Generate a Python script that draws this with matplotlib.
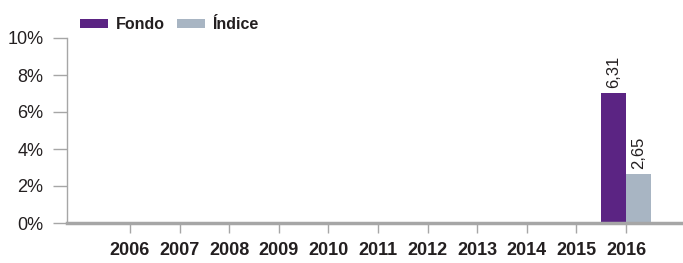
import matplotlib.pyplot as plt
import numpy as np
from matplotlib.font_manager import fontManager

years = ['2006', '2007', '2008', '2009', '2010', '2011', '2012', '2013', '2014', '2015', '2016']
fondo = [0, 0, 0, 0, 0, 0, 0, 0, 0, 0, 7.05]
indice = [0, 0, 0, 0, 0, 0, 0, 0, 0, 0, 2.65]
fondo_labels = ['', '', '', '', '', '', '', '', '', '', '6,31']
indice_labels = ['', '', '', '', '', '', '', '', '', '', '2,65']

names = {f.name for f in fontManager.ttflist}
fam = 'Liberation Sans Narrow' if 'Liberation Sans Narrow' in names else 'Liberation Sans'
plt.rcParams['font.family'] = [fam, 'DejaVu Sans']

purple = '#5b2483'
grey = '#a8b5c3'
axis_grey = '#a6a6a6'
txt = '#231f20'

fig = plt.figure(figsize=(6.83, 2.63), dpi=100)
ax = fig.add_axes([67 / 683, 40 / 263, 616 / 683, 185 / 263])

x = np.arange(len(years))
w = 0.5
ax.bar(x - w / 2, fondo, w, color=purple, label='Fondo')
ax.bar(x + w / 2, indice, w, color=grey, label='Índice')

# value labels, rotated like the original
for i in range(len(years)):
    if fondo_labels[i]:
        ax.text(x[i] - w / 2, fondo[i] + 0.25, fondo_labels[i], rotation=90,
                ha='center', va='bottom', fontsize=12, color=txt)
    if indice_labels[i]:
        ax.text(x[i] + w / 2, indice[i] + 0.25, indice_labels[i], rotation=90,
                ha='center', va='bottom', fontsize=12, color=txt)

ax.set_xlim(-1.27, 11.15)
ax.set_ylim(0, 10)
ax.set_yticks([0, 2, 4, 6, 8, 10])
ax.set_yticklabels(['0%', '2%', '4%', '6%', '8%', '10%'])
ax.set_xticks(x)
ax.set_xticklabels(years, fontweight='bold')

for s in ['top', 'right']:
    ax.spines[s].set_visible(False)
ax.spines['left'].set_color(axis_grey)
ax.spines['left'].set_linewidth(1)
ax.spines['bottom'].set_color(axis_grey)
ax.spines['bottom'].set_linewidth(2.5)

ax.tick_params(axis='y', length=10, width=1, color=axis_grey, pad=7,
               labelsize=13, labelcolor=txt)
ax.tick_params(axis='x', length=7, width=1, color=axis_grey, pad=7,
               labelsize=13, labelcolor=txt)

leg = fig.legend(loc='upper left', bbox_to_anchor=(66 / 683, 0.99), ncol=2,
                 frameon=False, handlelength=1.75, handleheight=0.45,
                 handletextpad=0.45, columnspacing=0.8,
                 prop={'weight': 'bold', 'size': 11.5})
for t in leg.get_texts():
    t.set_color(txt)

fig.savefig('out.png', dpi=100)
